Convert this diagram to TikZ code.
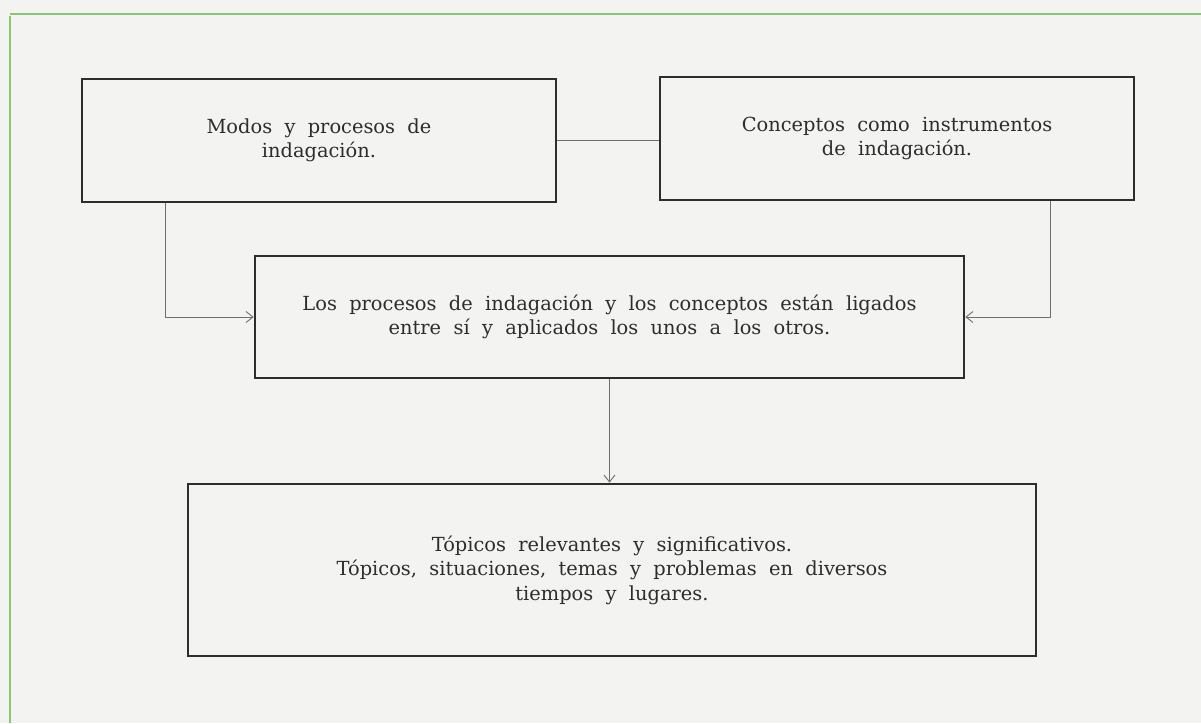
\documentclass[tikz,border=0pt]{standalone}
\usepackage{fontspec}
\setmainfont{DejaVu Serif}
\usetikzlibrary{arrows.meta,calc}
\definecolor{bg}{RGB}{243,243,242}
\definecolor{frameg}{RGB}{140,198,110}
\definecolor{ink}{RGB}{45,45,45}
\definecolor{thin}{RGB}{110,110,110}
\begin{document}
\begin{tikzpicture}[x=1pt,y=-1pt,
  boxstyle/.style={draw=ink, line width=2.6pt, rectangle, align=center, text=ink,
     font=\fontsize{19.4}{24.5}\selectfont, inner sep=0pt},
  link/.style={draw=thin, line width=0.9pt},
  arr/.style={link, -{Straight Barb[length=7pt,width=11pt,line width=0.9pt]}}]
\fill[bg] (0,0) rectangle (1201,723);
\useasboundingbox (0,0) rectangle (1201,723);
\draw[frameg, line width=2pt] (10,723) -- (10,16);
\draw[frameg, line width=2pt] (10,14) -- (1201,14);

\node[boxstyle, minimum width=474pt, minimum height=123pt] (b1) at (319,140.5)
  {Modos\ \ y\ \ procesos\ \ de\\indagación.};
\node[boxstyle, minimum width=474pt, minimum height=123pt] (b2) at (897,138.5)
  {Conceptos\ \ como\ \ instrumentos\\de\ \ indagación.};
\node[boxstyle, minimum width=709pt, minimum height=122pt] (b3) at (609.5,317)
  {Los\ \ procesos\ \ de\ \ indagación\ \ y\ \ los\ \ conceptos\ \ están\ \ ligados\\entre\ \ sí\ \ y\ \ aplicados\ \ los\ \ unos\ \ a\ \ los\ \ otros.};
\node[boxstyle, minimum width=848pt, minimum height=172pt] (b4) at (612,570)
  {Tópicos\ \ relevantes\ \ y\ \ significativos.\\Tópicos,\ \ situaciones,\ \ temas\ \ y\ \ problemas\ \ en\ \ diversos\\tiempos\ \ y\ \ lugares.};

\draw[link] (b1.east) -- (b1.east -| b2.west);
\draw[arr] ($(b1.south west)+(85,0)$) |- (b3.west);
\draw[arr] ($(b2.south west)+(392,0)$) |- (b3.east);
\draw[arr] (b3.south) -- (b3.south |- b4.north);
\end{tikzpicture}
\end{document}
